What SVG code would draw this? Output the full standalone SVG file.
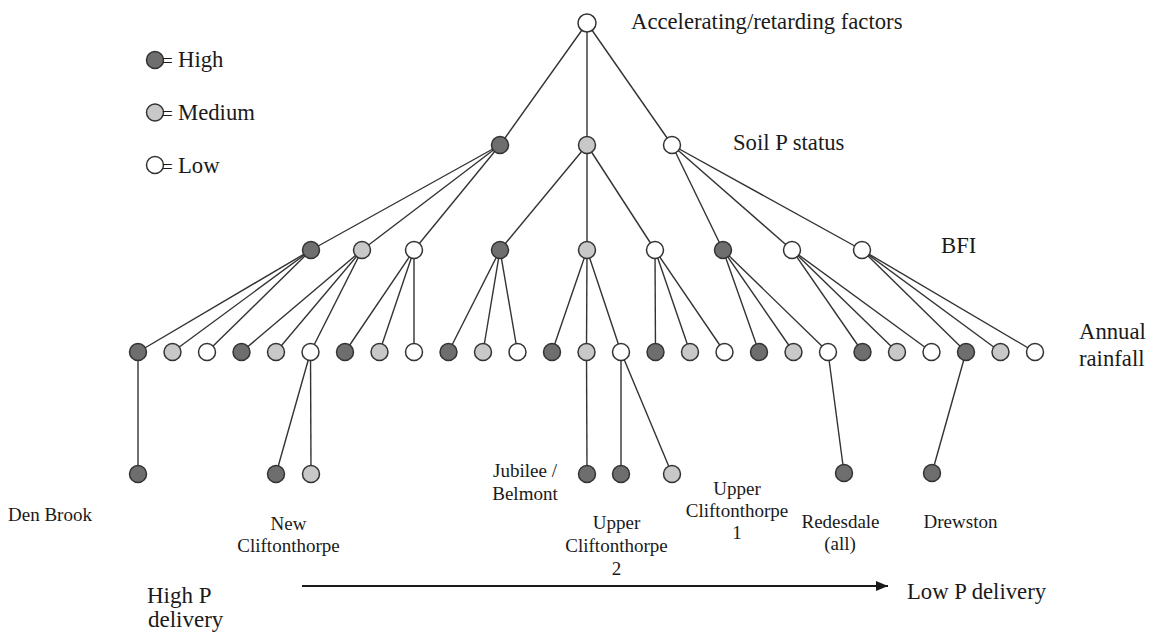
<svg xmlns="http://www.w3.org/2000/svg" width="1154" height="633" viewBox="0 0 1154 633">
<defs>
<style>
.n circle{stroke:#333;stroke-width:1.5}
.h{fill:#6e6e6e}
.m{fill:#c8c8c8}
.l{fill:#ffffff}
.e line{stroke:#333;stroke-width:1.4}
text{font-family:"Liberation Serif","Times New Roman",serif;fill:#1a1a1a}
.big{font-size:22.7px}
.lab{font-size:19px;text-anchor:middle}
</style>
<marker id="ah" markerWidth="12" markerHeight="10" refX="12" refY="5" orient="auto" markerUnits="userSpaceOnUse">
<polygon points="0,0 12,5 0,10" fill="#1a1a1a"/>
</marker>
</defs>
<rect width="1154" height="633" fill="#fff"/>

<g id="connectors" class="e">
<line x1="587" y1="23" x2="500" y2="145"/>
<line x1="587" y1="23" x2="587" y2="145"/>
<line x1="587" y1="23" x2="672" y2="145"/>
<line x1="500" y1="145" x2="311" y2="250"/>
<line x1="500" y1="145" x2="362" y2="250"/>
<line x1="500" y1="145" x2="414" y2="250"/>
<line x1="587" y1="145" x2="500" y2="250"/>
<line x1="587" y1="145" x2="587" y2="250"/>
<line x1="587" y1="145" x2="655" y2="250"/>
<line x1="672" y1="145" x2="723" y2="250"/>
<line x1="672" y1="145" x2="792" y2="250"/>
<line x1="672" y1="145" x2="862" y2="250"/>
<line x1="311" y1="250" x2="138" y2="352"/>
<line x1="311" y1="250" x2="172.5" y2="352"/>
<line x1="311" y1="250" x2="207" y2="352"/>
<line x1="362" y1="250" x2="241.5" y2="352"/>
<line x1="362" y1="250" x2="276" y2="352"/>
<line x1="362" y1="250" x2="310.5" y2="352"/>
<line x1="414" y1="250" x2="345" y2="352"/>
<line x1="414" y1="250" x2="379.5" y2="352"/>
<line x1="414" y1="250" x2="414" y2="352"/>
<line x1="500" y1="250" x2="448.5" y2="352"/>
<line x1="500" y1="250" x2="483" y2="352"/>
<line x1="500" y1="250" x2="517.5" y2="352"/>
<line x1="587" y1="250" x2="552" y2="352"/>
<line x1="587" y1="250" x2="586.5" y2="352"/>
<line x1="587" y1="250" x2="621" y2="352"/>
<line x1="655" y1="250" x2="655.5" y2="352"/>
<line x1="655" y1="250" x2="690" y2="352"/>
<line x1="655" y1="250" x2="724.5" y2="352"/>
<line x1="723" y1="250" x2="759" y2="352"/>
<line x1="723" y1="250" x2="793.5" y2="352"/>
<line x1="723" y1="250" x2="828" y2="352"/>
<line x1="792" y1="250" x2="862.5" y2="352"/>
<line x1="792" y1="250" x2="897" y2="352"/>
<line x1="792" y1="250" x2="931.5" y2="352"/>
<line x1="862" y1="250" x2="966" y2="352"/>
<line x1="862" y1="250" x2="1000.5" y2="352"/>
<line x1="862" y1="250" x2="1035" y2="352"/>
<line x1="138" y1="352" x2="138" y2="474"/>
<line x1="310.5" y1="352" x2="276" y2="474"/>
<line x1="310.5" y1="352" x2="311" y2="474"/>
<line x1="586.5" y1="352" x2="587" y2="474"/>
<line x1="621" y1="352" x2="621" y2="474"/>
<line x1="621" y1="352" x2="672" y2="474"/>
<line x1="828" y1="352" x2="844" y2="473"/>
<line x1="966" y1="352" x2="932" y2="473"/>
<line x1="302" y1="586" x2="888" y2="586" style="stroke:#1a1a1a;stroke-width:1.8" marker-end="url(#ah)"/>
</g>

<g id="legend" class="n">
<g id="legend-high"><circle class="h" cx="155" cy="60" r="8.5"/><text class="big" x="162" y="67"><tspan font-size="19">=</tspan><tspan x="178">High</tspan></text></g>
<g id="legend-medium"><circle class="m" cx="155" cy="112.5" r="8.5"/><text class="big" x="162" y="119.5"><tspan font-size="19">=</tspan><tspan x="178">Medium</tspan></text></g>
<g id="legend-low"><circle class="l" cx="155" cy="165" r="8.5"/><text class="big" x="162" y="173"><tspan font-size="19">=</tspan><tspan x="178">Low</tspan></text></g>
</g>

<g id="level-labels">
<text class="big" x="631" y="29">Accelerating/retarding factors</text>
<text class="big" x="733" y="149.5">Soil P status</text>
<text class="big" x="941" y="253">BFI</text>
<text class="big" x="1079" y="338.5">Annual</text>
<text class="big" x="1079" y="365.5">rainfall</text>
</g>

<g id="root" class="n"><circle class="l" cx="587" cy="23" r="9"/></g>

<g id="soil" class="n">
<g id="soil-high"><circle class="h" cx="500" cy="145" r="8.5"/></g>
<g id="soil-medium"><circle class="m" cx="587" cy="145" r="8.5"/></g>
<g id="soil-low"><circle class="l" cx="672" cy="145" r="8.5"/></g>
</g>

<g id="bfi" class="n">
<g id="bfi-1"><circle class="h" cx="311" cy="250" r="8.5"/></g>
<g id="bfi-2"><circle class="m" cx="362" cy="250" r="8.5"/></g>
<g id="bfi-3"><circle class="l" cx="414" cy="250" r="8.5"/></g>
<g id="bfi-4"><circle class="h" cx="500" cy="250" r="8.5"/></g>
<g id="bfi-5"><circle class="m" cx="587" cy="250" r="8.5"/></g>
<g id="bfi-6"><circle class="l" cx="655" cy="250" r="8.5"/></g>
<g id="bfi-7"><circle class="h" cx="723" cy="250" r="8.5"/></g>
<g id="bfi-8"><circle class="l" cx="792" cy="250" r="8.5"/></g>
<g id="bfi-9"><circle class="l" cx="862" cy="250" r="8.5"/></g>
</g>

<g id="rainfall" class="n">
<g id="rain-1"><circle class="h" cx="138" cy="352" r="8.5"/></g>
<g id="rain-2"><circle class="m" cx="172.5" cy="352" r="8.5"/></g>
<g id="rain-3"><circle class="l" cx="207" cy="352" r="8.5"/></g>
<g id="rain-4"><circle class="h" cx="241.5" cy="352" r="8.5"/></g>
<g id="rain-5"><circle class="m" cx="276" cy="352" r="8.5"/></g>
<g id="rain-6"><circle class="l" cx="310.5" cy="352" r="8.5"/></g>
<g id="rain-7"><circle class="h" cx="345" cy="352" r="8.5"/></g>
<g id="rain-8"><circle class="m" cx="379.5" cy="352" r="8.5"/></g>
<g id="rain-9"><circle class="l" cx="414" cy="352" r="8.5"/></g>
<g id="rain-10"><circle class="h" cx="448.5" cy="352" r="8.5"/></g>
<g id="rain-11"><circle class="m" cx="483" cy="352" r="8.5"/></g>
<g id="rain-12"><circle class="l" cx="517.5" cy="352" r="8.5"/></g>
<g id="rain-13"><circle class="h" cx="552" cy="352" r="8.5"/></g>
<g id="rain-14"><circle class="m" cx="586.5" cy="352" r="8.5"/></g>
<g id="rain-15"><circle class="l" cx="621" cy="352" r="8.5"/></g>
<g id="rain-16"><circle class="h" cx="655.5" cy="352" r="8.5"/></g>
<g id="rain-17"><circle class="m" cx="690" cy="352" r="8.5"/></g>
<g id="rain-18"><circle class="l" cx="724.5" cy="352" r="8.5"/></g>
<g id="rain-19"><circle class="h" cx="759" cy="352" r="8.5"/></g>
<g id="rain-20"><circle class="m" cx="793.5" cy="352" r="8.5"/></g>
<g id="rain-21"><circle class="l" cx="828" cy="352" r="8.5"/></g>
<g id="rain-22"><circle class="h" cx="862.5" cy="352" r="8.5"/></g>
<g id="rain-23"><circle class="m" cx="897" cy="352" r="8.5"/></g>
<g id="rain-24"><circle class="l" cx="931.5" cy="352" r="8.5"/></g>
<g id="rain-25"><circle class="h" cx="966" cy="352" r="8.5"/></g>
<g id="rain-26"><circle class="m" cx="1000.5" cy="352" r="8.5"/></g>
<g id="rain-27"><circle class="l" cx="1035" cy="352" r="8.5"/></g>
</g>

<g id="sites" class="n">
<g id="den-brook"><circle class="h" cx="138" cy="474" r="8.5"/><text class="lab" x="50" y="521">Den Brook</text></g>
<g id="new-cliftonthorpe"><circle class="h" cx="276" cy="474" r="8.5"/><circle class="m" cx="311" cy="474" r="8.5"/><text class="lab" x="288.5" y="530">New</text><text class="lab" x="288.5" y="552">Cliftonthorpe</text></g>
<g id="jubilee-belmont"><circle class="h" cx="587" cy="474" r="8.5"/><text class="lab" x="525" y="477">Jubilee /</text><text class="lab" x="525" y="500">Belmont</text></g>
<g id="upper-cliftonthorpe-2"><circle class="h" cx="621" cy="474" r="8.5"/><text class="lab" x="616.5" y="529">Upper</text><text class="lab" x="616.5" y="552">Cliftonthorpe</text><text class="lab" x="616.5" y="574.5">2</text></g>
<g id="upper-cliftonthorpe-1"><circle class="m" cx="672" cy="474" r="8.5"/><text class="lab" x="737" y="494.5">Upper</text><text class="lab" x="737" y="517">Cliftonthorpe</text><text class="lab" x="737" y="539">1</text></g>
<g id="redesdale"><circle class="h" cx="844" cy="473" r="8.5"/><text class="lab" x="840.5" y="527.5">Redesdale</text><text class="lab" x="840" y="550">(all)</text></g>
<g id="drewston"><circle class="h" cx="932" cy="473" r="8.5"/><text class="lab" x="960.5" y="527.5">Drewston</text></g>
</g>

<g id="axis-labels">
<text style="font-size:23px" x="147" y="603">High P</text>
<text style="font-size:23px" x="148" y="627">delivery</text>
<text class="big" x="907" y="599">Low P delivery</text>
</g>
</svg>
